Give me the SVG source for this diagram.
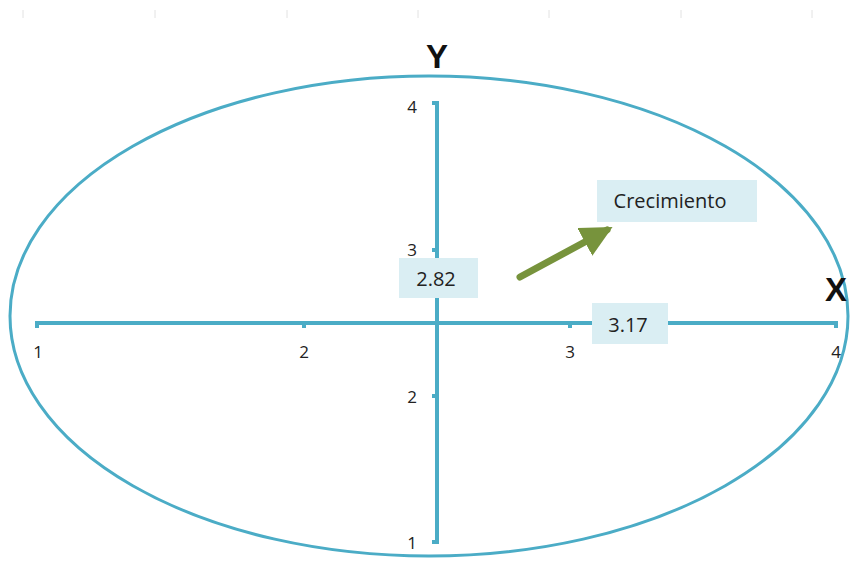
<svg xmlns="http://www.w3.org/2000/svg" width="851" height="563" viewBox="0 0 851 563">
<style>
.ax{stroke:#4BACC6;stroke-width:4;fill:none;stroke-linecap:butt}
.tk{stroke:#4BACC6;stroke-width:4}
.lbl{font-family:"Open Sans","Liberation Sans",sans-serif;font-size:17px;fill:#222;text-anchor:middle}
.box{fill:#DAEEF3}
.bt{font-family:"Open Sans","Liberation Sans",sans-serif;font-size:20px;fill:#222;text-anchor:middle}
.big{font-family:"Liberation Sans",Arial,sans-serif;font-size:33px;font-weight:bold;fill:#111;text-anchor:middle}
.rule{stroke:#e2e2e2;stroke-width:1}
</style>
<defs>
<marker id="ah" viewBox="0 0 10 10" refX="8" refY="5" markerWidth="4.5" markerHeight="4.5" orient="auto" markerUnits="strokeWidth">
<path d="M0,0 L10,5 L0,10 z" fill="#77933C"/>
</marker>
</defs>
<rect width="851" height="563" fill="#fff"/>
<g id="ruler">
<line class="rule" x1="23" y1="10" x2="23" y2="18"/>
<line class="rule" x1="155" y1="10" x2="155" y2="18"/>
<line class="rule" x1="287" y1="10" x2="287" y2="18"/>
<line class="rule" x1="418" y1="10" x2="418" y2="18"/>
<line class="rule" x1="549" y1="10" x2="549" y2="18"/>
<line class="rule" x1="681" y1="10" x2="681" y2="18"/>
<line class="rule" x1="812" y1="10" x2="812" y2="18"/>
</g>
<g id="ellipse">
<ellipse cx="429" cy="316" rx="419" ry="240" fill="none" stroke="#4BACC6" stroke-width="3"/>
</g>
<g id="connectors">
<line class="ax" x1="35" y1="323" x2="838" y2="323"/>
<line class="tk" x1="37" y1="321" x2="37" y2="328"/>
<line class="tk" x1="304" y1="321" x2="304" y2="328"/>
<line class="tk" x1="570" y1="321" x2="570" y2="328"/>
<line class="tk" x1="836" y1="321" x2="836" y2="328"/>
<line class="ax" x1="437" y1="101" x2="437" y2="544"/>
<line class="tk" x1="432" y1="103" x2="439" y2="103"/>
<line class="tk" x1="432" y1="250" x2="439" y2="250"/>
<line class="tk" x1="432" y1="396" x2="439" y2="396"/>
<line class="tk" x1="432" y1="542" x2="439" y2="542"/>
<line x1="520" y1="277" x2="607" y2="230" stroke="#77933C" stroke-width="7" stroke-linecap="round" marker-end="url(#ah)"/>
</g>
<g id="xlabels">
<text class="lbl" x="38" y="358">1</text>
<text class="lbl" x="304" y="358">2</text>
<text class="lbl" x="570" y="358">3</text>
<text class="lbl" x="836" y="358">4</text>
</g>
<g id="ylabels">
<text class="lbl" x="412" y="113">4</text>
<text class="lbl" x="412" y="256">3</text>
<text class="lbl" x="412" y="403">2</text>
<text class="lbl" x="412" y="549">1</text>
</g>
<g id="axisY"><text class="big" x="437" y="68">Y</text></g>
<g id="axisX"><text class="big" x="836" y="301">X</text></g>
<g id="box282">
<rect class="box" x="399" y="258" width="79" height="40"/>
<text class="bt" x="436" y="286">2.82</text>
</g>
<g id="box317">
<rect class="box" x="592" y="303" width="76" height="41"/>
<text class="bt" x="628" y="332">3.17</text>
</g>
<g id="crecimiento">
<rect class="box" x="597" y="180" width="160" height="42"/>
<text class="bt" x="670" y="208">Crecimiento</text>
</g>
</svg>
